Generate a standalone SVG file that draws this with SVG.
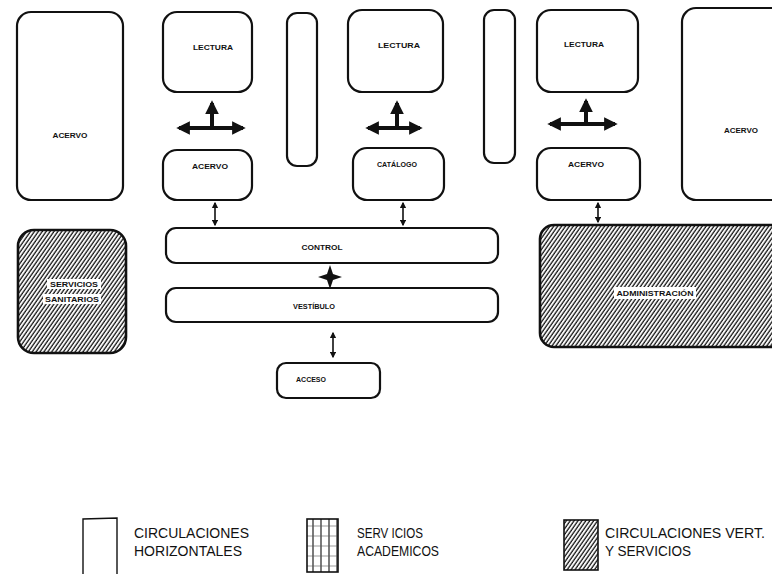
<svg xmlns="http://www.w3.org/2000/svg" width="772" height="574" viewBox="0 0 772 574">
<style>
.box{fill:#fff;stroke:#111;stroke-width:2.2}
.hbox{fill:url(#hatch);stroke:#111;stroke-width:2.6}
.lbl{font-family:"Liberation Sans",Arial,sans-serif;font-weight:bold;font-size:8px;fill:#111;text-anchor:middle}
.leg{font-family:"Liberation Sans",Arial,sans-serif;font-size:14px;fill:#111}
.thin{stroke:#111;stroke-width:1.6;fill:none}
.thick{stroke:#111;stroke-width:4;fill:none}
</style>
<defs>
<pattern id="hatch" width="3.2" height="4" patternUnits="userSpaceOnUse" patternTransform="rotate(35)">
<rect width="3.2" height="4" fill="#fff"/>
<line x1="1" y1="0" x2="1" y2="4" stroke="#111" stroke-width="1.3"/>
</pattern>
<pattern id="grid" width="8" height="10" patternUnits="userSpaceOnUse">
<rect width="8" height="10" fill="#fff"/>
<line x1="1" y1="0" x2="1" y2="10" stroke="#222" stroke-width="1.2"/>
<line x1="0" y1="6" x2="8" y2="6" stroke="#555" stroke-width="0.6"/>
</pattern>
<marker id="ah" viewBox="0 0 10 10" refX="8" refY="5" markerWidth="4" markerHeight="4" orient="auto-start-reverse">
<path d="M0,0 L10,5 L0,10 Z" fill="#111"/>
</marker>
<marker id="ahb" viewBox="0 0 10 10" refX="8" refY="5" markerWidth="3.4" markerHeight="3.4" orient="auto-start-reverse">
<path d="M0,0 L10,5 L0,10 Z" fill="#111"/>
</marker>
</defs>
<rect width="772" height="574" fill="#fff"/>

<g id="acervo-left"><rect class="box" x="17" y="12" width="106" height="188" rx="14"/><text class="lbl" x="70" y="138" textLength="35" lengthAdjust="spacingAndGlyphs">ACERVO</text></g>
<g id="lectura-1"><rect class="box" x="163" y="12" width="89" height="80" rx="14"/><text class="lbl" x="213" y="50" textLength="40" lengthAdjust="spacingAndGlyphs">LECTURA</text></g>
<g id="acervo-1"><rect class="box" x="163" y="150" width="89" height="50" rx="14"/><text class="lbl" x="210" y="169" textLength="36" lengthAdjust="spacingAndGlyphs">ACERVO</text></g>
<g id="bar-1"><rect class="box" x="287" y="13" width="30" height="153" rx="10"/></g>
<g id="lectura-2"><rect class="box" x="348" y="10" width="95" height="82" rx="14"/><text class="lbl" x="399" y="48" textLength="42" lengthAdjust="spacingAndGlyphs">LECTURA</text></g>
<g id="catalogo"><rect class="box" x="353" y="148" width="91" height="52" rx="14"/><text class="lbl" x="397" y="167" textLength="40" lengthAdjust="spacingAndGlyphs">CATÁLOGO</text></g>
<g id="bar-2"><rect class="box" x="484" y="10" width="31" height="153" rx="10"/></g>
<g id="lectura-3"><rect class="box" x="537" y="10" width="101" height="82" rx="14"/><text class="lbl" x="584" y="47" textLength="40" lengthAdjust="spacingAndGlyphs">LECTURA</text></g>
<g id="acervo-3"><rect class="box" x="537" y="148" width="103" height="52" rx="14"/><text class="lbl" x="586" y="167" textLength="36" lengthAdjust="spacingAndGlyphs">ACERVO</text></g>
<g id="acervo-right"><rect class="box" x="682" y="8" width="110" height="192" rx="14"/><text class="lbl" x="741" y="133" textLength="34" lengthAdjust="spacingAndGlyphs">ACERVO</text></g>

<g id="servicios"><rect class="hbox" x="18" y="230" width="108" height="123" rx="16"/>
<rect x="47" y="279" width="54" height="10" fill="#fff"/><rect x="43" y="294" width="58" height="10" fill="#fff"/>
<text class="lbl" x="74" y="287" textLength="48" lengthAdjust="spacingAndGlyphs">SERVICIOS</text><text class="lbl" x="72" y="302" textLength="54" lengthAdjust="spacingAndGlyphs">SANITARIOS</text></g>
<g id="control"><rect class="box" x="166" y="228" width="332" height="35" rx="10"/><text class="lbl" x="322" y="250" textLength="41" lengthAdjust="spacingAndGlyphs">CONTROL</text></g>
<g id="vestibulo"><rect class="box" x="166" y="288" width="332" height="34" rx="10"/><text class="lbl" x="314" y="309" textLength="42" lengthAdjust="spacingAndGlyphs">VESTÍBULO</text></g>
<g id="acceso"><rect class="box" x="277" y="363" width="103" height="35" rx="9"/><text class="lbl" x="311" y="382" textLength="30" lengthAdjust="spacingAndGlyphs">ACCESO</text></g>
<g id="administracion"><rect class="hbox" x="540" y="225" width="250" height="122" rx="14"/>
<rect x="614" y="287" width="82" height="12" fill="#fff"/>
<text class="lbl" x="655" y="296" textLength="77" lengthAdjust="spacingAndGlyphs">ADMINISTRACIÓN</text></g>

<g id="connectors">
<line class="thick" x1="179" y1="128" x2="243" y2="128" marker-start="url(#ahb)" marker-end="url(#ahb)"/>
<line class="thick" x1="212" y1="128" x2="212" y2="103" marker-end="url(#ahb)"/>
<line class="thick" x1="368" y1="128" x2="420" y2="128" marker-start="url(#ahb)" marker-end="url(#ahb)"/>
<line class="thick" x1="397" y1="128" x2="397" y2="103" marker-end="url(#ahb)"/>
<line class="thick" x1="550" y1="124" x2="615" y2="124" marker-start="url(#ahb)" marker-end="url(#ahb)"/>
<line class="thick" x1="586" y1="124" x2="586" y2="101" marker-end="url(#ahb)"/>
<line class="thin" x1="215" y1="203" x2="215" y2="225" marker-start="url(#ah)" marker-end="url(#ah)"/>
<line class="thin" x1="403" y1="203" x2="403" y2="225" marker-start="url(#ah)" marker-end="url(#ah)"/>
<line class="thin" x1="598" y1="203" x2="598" y2="222" marker-start="url(#ah)" marker-end="url(#ah)"/>
<path d="M330,265 L333,274 L342,277 L333,280 L330,289 L327,280 L318,277 L327,274 Z" fill="#111"/>
<line class="thin" x1="333" y1="333" x2="333" y2="357" stroke-width="2" marker-start="url(#ah)" marker-end="url(#ah)"/>
</g>

<g id="legend">
<path d="M83,574 L83,519 L117,518 L117,574" fill="none" stroke="#111" stroke-width="1.4"/>
<text class="leg" x="134" y="538" textLength="115" lengthAdjust="spacingAndGlyphs">CIRCULACIONES</text>
<text class="leg" x="134" y="556" textLength="108" lengthAdjust="spacingAndGlyphs">HORIZONTALES</text>
<rect x="307" y="519" width="31" height="53" fill="url(#grid)" stroke="#111" stroke-width="1.6"/>
<text class="leg" x="357" y="538" textLength="66" lengthAdjust="spacingAndGlyphs">SERV ICIOS</text>
<text class="leg" x="357" y="556" textLength="82" lengthAdjust="spacingAndGlyphs">ACADEMICOS</text>
<rect x="564" y="520" width="34" height="50" fill="url(#hatch)" stroke="#111" stroke-width="1.6"/>
<text class="leg" x="605" y="538" textLength="160" lengthAdjust="spacingAndGlyphs">CIRCULACIONES VERT.</text>
<text class="leg" x="605" y="556" textLength="86" lengthAdjust="spacingAndGlyphs">Y SERVICIOS</text>
</g>
</svg>
